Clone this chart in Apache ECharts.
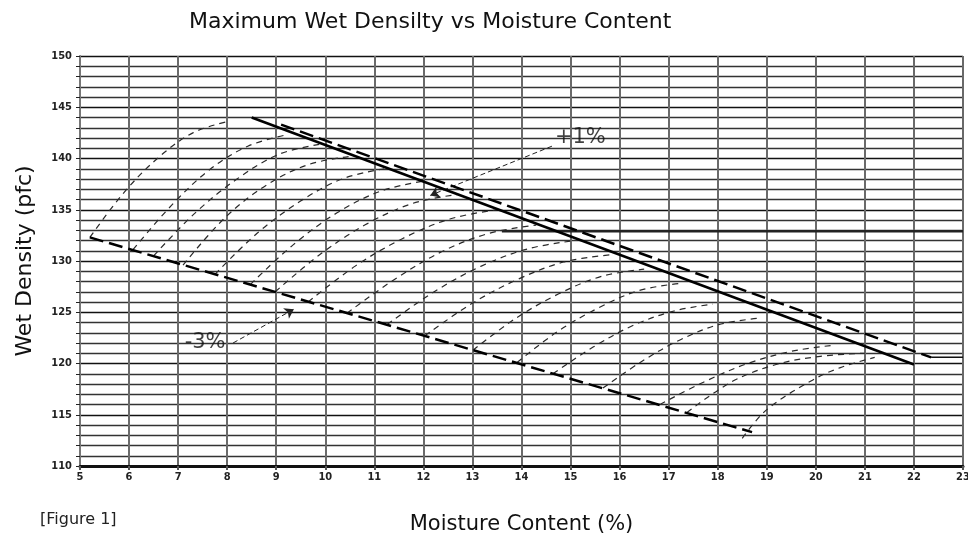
<!DOCTYPE html>
<html>
<head>
<meta charset="utf-8">
<script src="https://cdn.jsdelivr.net/npm/echarts@6/dist/echarts.min.js"></script>
<style>
    html, body { margin: 0; padding: 0; background: #fff; }
    #main { width: 968px; height: 538px; }
</style>
</head>
<body>
<div id="main"></div>
<script>
// x: moisture content (%), y: wet density (pcf)
const maxLine = [[8.5, 144.0], [22.0, 119.9]]
const plusOneLine = [[9.1, 143.3], [22.35, 120.6]]
const plusOneTail = [[22.35, 120.6], [23, 120.6]]
const minusThreeLine = [[5.2, 132.3], [18.7, 113.3]]
const band133 = [[13.6, 132.9], [23, 132.9]]

// compaction curves
const curve01 = [[5.2, 132.3], [5.9, 136.7], [6.6, 140.1], [7.3, 142.5], [8.0, 143.6]]
const curve02 = [[6.08, 131.1], [6.86, 135.4], [7.64, 138.9], [8.42, 141.2], [9.2, 142.3]]
const curve03 = [[6.5, 130.5], [7.35, 134.7], [8.2, 138.0], [9.05, 140.4], [9.9, 141.4]]
const curve04 = [[7.1, 129.6], [7.95, 134.2], [8.8, 137.4], [9.65, 139.4], [10.5, 140.2]]
const curve05 = [[7.75, 128.7], [8.61, 132.7], [9.48, 135.8], [10.34, 138.0], [11.2, 139.0]]
const curve06 = [[8.47, 127.7], [9.35, 131.6], [10.24, 134.7], [11.12, 136.8], [12.0, 137.8]]
const curve07 = [[8.98, 127.0], [9.91, 130.7], [10.84, 133.6], [11.77, 135.6], [12.7, 136.5]]
const curve08 = [[9.65, 126.0], [10.61, 129.5], [11.58, 132.2], [12.54, 134.1], [13.5, 135.0]]
const curve09 = [[10.44, 124.9], [11.41, 128.2], [12.37, 130.9], [13.34, 132.7], [14.3, 133.5]]
const curve10 = [[11.26, 123.8], [12.22, 127.0], [13.18, 129.5], [14.14, 131.2], [15.1, 132.0]]
const curve11 = [[12.03, 122.7], [12.97, 125.8], [13.92, 128.2], [14.86, 129.9], [15.8, 130.6]]
const curve12 = [[13.01, 121.3], [13.88, 124.4], [14.76, 126.8], [15.63, 128.5], [16.5, 129.2]]
const curve13 = [[13.91, 120.1], [14.73, 123.1], [15.56, 125.4], [16.38, 127.1], [17.2, 127.8]]
const curve14 = [[14.64, 119.0], [15.46, 121.6], [16.27, 123.7], [17.09, 125.1], [17.9, 125.8]]
const curve15 = [[15.66, 117.6], [16.45, 120.2], [17.23, 122.3], [18.02, 123.8], [18.8, 124.4]]
const curve16 = [[16.82, 116.0], [17.72, 118.2], [18.61, 120.0], [19.51, 121.2], [20.4, 121.8]]
const curve17 = [[17.37, 115.2], [18.28, 118.2], [19.19, 119.9], [20.09, 120.7], [21.0, 121.0]]
const curve18 = [[18.5, 112.7], [19.0, 115.5], [19.94, 118.4], [20.5, 119.6], [21.2, 120.6]]
const compactionCurves = [curve01, curve02, curve03, curve04, curve05, curve06, curve07, curve08, curve09,
    curve10, curve11, curve12, curve13, curve14, curve15, curve16, curve17, curve18]

// annotations
const plusOneLabel = [[15.2, 142.0]]
const plusOneArrow = [[14.62, 141.2], [12.14, 136.4]]
const minusThreeLabel = [[7.55, 122.0]]
const minusThreeArrow = [[8.12, 122.0], [9.36, 125.3]]

const chart = echarts.init(document.getElementById('main'))

const fontMain = 'DejaVu Sans'
const fontTick = 'DejaVu Sans Condensed'

const series = []
compactionCurves.forEach((c, i) => {
    series.push({
        name: 'curve' + (i + 1),
        type: 'line',
        data: c,
        smooth: 0.35,
        showSymbol: false,
        lineStyle: { color: '#2a2a2a', width: 1.2, type: [6, 5] },
        z: 3
    })
})
series.push({
    name: 'max',
    type: 'line',
    data: maxLine,
    showSymbol: false,
    lineStyle: { color: '#000', width: 2.5 },
    z: 5
})
series.push({
    name: 'plus1',
    type: 'line',
    data: plusOneLine,
    showSymbol: false,
    lineStyle: { color: '#000', width: 2.5, type: [14, 6] },
    z: 5
})
series.push({
    name: 'plus1tail',
    type: 'line',
    data: plusOneTail,
    showSymbol: false,
    lineStyle: { color: '#111', width: 1.5 },
    z: 4
})
series.push({
    name: 'minus3',
    type: 'line',
    data: minusThreeLine,
    showSymbol: false,
    lineStyle: { color: '#000', width: 2.5, type: [14, 6] },
    z: 5
})
series.push({
    name: 'band',
    type: 'line',
    data: band133,
    showSymbol: false,
    lineStyle: { color: '#222', width: 2.5 },
    z: 2
})
series.push({
    name: 'leaders',
    type: 'line',
    data: [],
    markLine: {
        silent: true,
        symbol: ['none', 'arrow'],
        symbolSize: 9,
        label: { show: false },
        lineStyle: { color: '#222', width: 1, type: [5, 3] },
        data: [
            [{ coord: plusOneArrow[0] }, { coord: plusOneArrow[1] }],
            [{ coord: minusThreeArrow[0] }, { coord: minusThreeArrow[1] }]
        ]
    }
})
series.push({
    name: 'labels',
    type: 'scatter',
    symbolSize: 0,
    data: [
        { value: plusOneLabel[0], label: { formatter: '+1%' } },
        { value: minusThreeLabel[0], label: { formatter: '-3%' } }
    ],
    label: {
        show: true,
        position: 'inside',
        color: '#111',
        fontSize: 21,
        fontFamily: fontMain
    },
    z: 6
})

const option = {
    animation: false,
    backgroundColor: '#fff',
    title: {
        text: 'Maximum Wet Densilty vs Moisture Content',
        left: 184,
        top: 6,
        textStyle: { fontFamily: fontMain, fontWeight: 'normal', fontSize: 22, color: '#111' }
    },
    graphic: [{
        type: 'text',
        left: 40,
        top: 512,
        style: { text: '[Figure 1]', fontFamily: fontMain, fontSize: 16, fill: '#222' }
    }],
    grid: { left: 80, right: 5, top: 56, bottom: 72, outerBoundsMode: 'none' },
    xAxis: {
        type: 'value',
        min: 5,
        max: 23,
        interval: 1,
        name: 'Moisture Content (%)',
        nameLocation: 'middle',
        nameGap: 48,
        nameTextStyle: { fontFamily: fontMain, fontSize: 21, color: '#111' },
        axisLine: { lineStyle: { color: '#111', width: 3 } },
        axisTick: { show: true, length: 4, lineStyle: { color: '#555', width: 2 } },
        axisLabel: { fontFamily: fontTick, fontSize: 11, fontWeight: 'bold', color: '#222', margin: 6 },
        splitLine: { show: true, lineStyle: { color: '#6a6a6a', width: 2 } }
    },
    yAxis: {
        type: 'value',
        min: 110,
        max: 150,
        interval: 1,
        name: 'Wet Density (pfc)',
        nameLocation: 'middle',
        nameGap: 44,
        nameTextStyle: { fontFamily: fontMain, fontSize: 22, color: '#111' },
        axisLine: { show: true, lineStyle: { color: '#777', width: 2 } },
        axisTick: { show: true, length: 4, lineStyle: { color: '#222' } },
        axisLabel: {
            fontFamily: fontTick, fontSize: 11, fontWeight: 'bold', color: '#222', margin: 8,
            formatter: v => (v % 5 === 0 ? String(v) : '')
        },
        splitLine: {
            show: true,
            lineStyle: { color: ['#111', '#333', '#333', '#333', '#333'], width: 1.3 }
        }
    },
    series: series
}

chart.setOption(option)
</script>
</body>
</html>
